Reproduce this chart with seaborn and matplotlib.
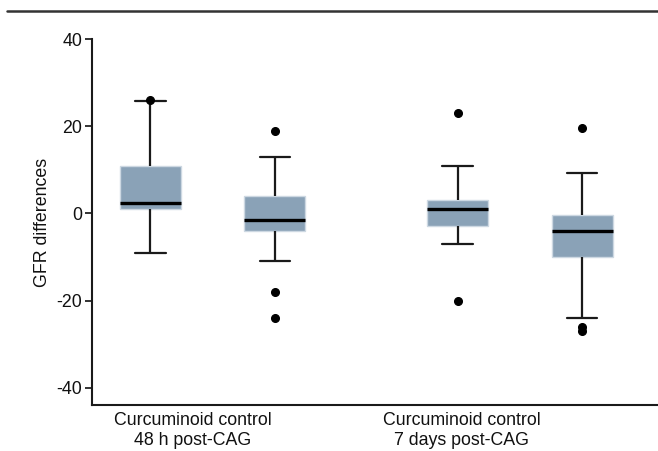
import numpy as np
import pandas as pd
import seaborn as sns
import matplotlib.pyplot as plt
from matplotlib.lines import Line2D

groups = ["48 h post-CAG", "7 days post-CAG"]
treatments = ["Curcuminoid", "control"]
tick_labels = ["Curcuminoid control\n48 h post-CAG", "Curcuminoid control\n7 days post-CAG"]

curc_48h = [-9, 0.5, 1.1, 2.0, 2.5, 6, 11, 25.8, 26.0]
ctrl_48h = [-24, -18, -11, -3.9, -3, -2.5, -1.6, 0, 2, 4.1, 8, 13, 18.8]
curc_7d = [-20, -6.9, -4, -2.8, -1, 0, 1.1, 1.5, 2, 3, 5, 11, 23]
ctrl_7d = [-27, -26, -24, -9.9, -8, -6, -4, -3, -2, -0.4, 3, 9.2, 19.5]

rows = []
for g, t, vals in [(groups[0], treatments[0], curc_48h), (groups[0], treatments[1], ctrl_48h),
                   (groups[1], treatments[0], curc_7d), (groups[1], treatments[1], ctrl_7d)]:
    for v in vals:
        rows.append({"group": g, "treatment": t, "GFR": v})
df = pd.DataFrame(rows)

sns.set_style("ticks")
plt.rcParams['font.family'] = ['Liberation Sans', 'DejaVu Sans']

fig = plt.figure(figsize=(6.58, 4.51), dpi=100)
ax = fig.add_axes([92/658, 46/451, 1 - 92/658, (405-39)/451])

fill = "#8AA2B7"
sns.boxplot(data=df, x="group", y="GFR", hue="treatment", order=groups, hue_order=treatments,
            palette=[fill, fill], saturation=1, width=0.81, gap=0.51, dodge=True, ax=ax, legend=False,
            linecolor="#1a1a1a", linewidth=1.6,
            boxprops=dict(edgecolor="#cdd8e2", linewidth=1.0),
            medianprops=dict(color="black", linewidth=2.4),
            whiskerprops=dict(color="#1a1a1a", linewidth=1.6),
            capprops=dict(color="#1a1a1a", linewidth=1.6),
            flierprops=dict(marker="o", markerfacecolor="black", markeredgecolor="black",
                            markersize=5.5))

ax.set_xlim(-0.392, 1.449)
ax.set_ylim(-43.9, 40)
ax.set_yticks([-40, -20, 0, 20, 40])
ax.set_yticklabels(["-40", "-20", "0", "20", "40"])
ax.set_xticks([-0.065, 0.811])
ax.set_xticklabels(tick_labels)
ax.tick_params(axis="x", length=0, labelsize=12.8, pad=5, colors="#111111")
ax.tick_params(axis="y", length=5, width=1.2, labelsize=12.8, pad=2, colors="#111111")
ax.set_xlabel("")
ax.set_ylabel("GFR differences", fontsize=12.8, labelpad=4, color="#111111")
for s in ["top", "right"]:
    ax.spines[s].set_visible(False)
for s in ["left", "bottom"]:
    ax.spines[s].set_linewidth(1.5)
    ax.spines[s].set_color("#1a1a1a")

fig.add_artist(Line2D([7/658, 1.0], [(451-11)/451, (451-11)/451], color="#333333", linewidth=1.8,
                      transform=fig.transFigure))

fig.savefig("out.png", dpi=100)
